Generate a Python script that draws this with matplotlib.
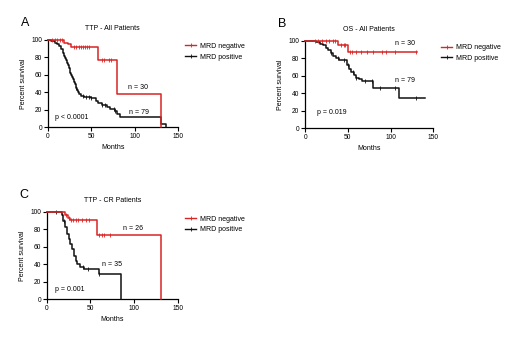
import numpy as np
import matplotlib
matplotlib.use("Agg")
import matplotlib.pyplot as plt
from matplotlib.lines import Line2D

plt.rcParams.update({
    "font.family": "Liberation Sans",
    "font.size": 5,
    "xtick.labelsize": 4.8,
    "ytick.labelsize": 4.8,
})

RED = "#d92424"
BLACK = "#111111"

# Panel A: TTP - All Patients
a_neg_t = [0, 19, 23, 27, 58, 80, 131]
a_neg_s = [100, 97, 95, 92, 77, 38, 0]
a_neg_cens = [5, 8, 11, 14, 16, 30, 33, 36, 38, 40, 43, 45, 48, 63, 65, 70, 73]
a_pos_t = [0, 4, 8, 11, 13, 15, 17, 18, 19, 20, 21, 22, 23, 24, 25, 26, 27, 28, 29,
           30, 31, 32, 33, 34, 35, 36, 38, 42, 50, 55, 58, 62, 68, 72, 78, 80, 83, 130, 136]
a_pos_s = [100, 99, 97, 95, 93, 90, 87, 85, 82, 79, 77, 74, 71, 68, 65, 62, 60, 57, 55,
           52, 49, 47, 45, 42, 40, 38, 36, 35, 33, 30, 28, 25, 23, 21, 18, 15, 11, 4, 0]
a_pos_cens = [33, 40, 44, 47, 50, 63, 66, 76, 78]

# Panel B: OS - All Patients
b_neg_t = [0, 38, 50]
b_neg_s = [100, 95, 87]
b_neg_end = 131
b_neg_cens = [12, 15, 20, 24, 28, 32, 35, 42, 45, 47, 52, 55, 60, 65, 72, 80, 90, 95, 105, 130]
b_pos_t = [0, 13, 17, 21, 24, 27, 30, 33, 36, 40, 49, 51, 54, 57, 60, 63, 66, 80, 110]
b_pos_s = [100, 99, 97, 95, 92, 89, 86, 83, 80, 78, 72, 68, 64, 61, 58, 56, 54, 46, 35]
b_pos_end = 140
b_pos_cens = [30, 38, 45, 50, 56, 60, 70, 78, 88, 105, 130]

# Panel C: TTP - CR Patients
c_neg_t = [0, 21, 24, 27, 57, 131]
c_neg_s = [100, 96, 93, 91, 73, 0]
c_neg_cens = [22, 25, 28, 30, 33, 36, 40, 45, 48, 60, 63, 66, 72]
c_pos_t = [0, 17, 19, 21, 23, 25, 27, 29, 31, 33, 35, 38, 43, 60, 85]
c_pos_s = [100, 96, 90, 83, 75, 69, 63, 57, 50, 44, 40, 37, 35, 29, 0]
c_pos_cens = [10, 20, 42, 47, 60]

panels = [
    dict(letter="A", title="TTP - All Patients",
         pos=[0.092, 0.624, 0.250, 0.258],
         neg=(a_neg_t, a_neg_s, None, a_neg_cens), posv=(a_pos_t, a_pos_s, None, a_pos_cens),
         notes=[(93, 45, "n = 30"), (93.5, 17, "n = 79"), (8, 11.5, "p < 0.0001")],
         leg=(0.356, 0.873)),
    dict(letter="B", title="OS - All Patients",
         pos=[0.587, 0.621, 0.246, 0.258],
         neg=(b_neg_t, b_neg_s, b_neg_end, b_neg_cens), posv=(b_pos_t, b_pos_s, b_pos_end, b_pos_cens),
         notes=[(105, 97, "n = 30"), (105, 55, "n = 79"), (14, 18, "p = 0.019")],
         leg=(0.848, 0.870)),
    dict(letter="C", title="TTP - CR Patients",
         pos=[0.090, 0.115, 0.252, 0.258],
         neg=(c_neg_t, c_neg_s, None, c_neg_cens), posv=(c_pos_t, c_pos_s, None, c_pos_cens),
         notes=[(87, 81, "n = 26"), (63, 40, "n = 35"), (9, 11, "p = 0.001")],
         leg=(0.356, 0.362)),
]


def draw_km(ax, t, s, end, cens, color):
    xs = list(t) + ([end] if end is not None else [])
    ys = list(s) + ([s[-1]] if end is not None else [])
    ax.step(xs, ys, where="post", color=color, lw=1.1, clip_on=False, zorder=3)
    idx = np.searchsorted(t, cens, side="right") - 1
    cy = np.array(s)[idx]
    ax.plot(cens, cy, ls="none", marker="|", ms=3.2, mew=0.6, color=color,
            clip_on=False, zorder=3)


fig = plt.figure(figsize=(5.2, 3.38), dpi=100)
for p in panels:
    ax = fig.add_axes(p["pos"])
    draw_km(ax, *p["posv"], BLACK)
    draw_km(ax, *p["neg"], RED)
    ax.set_xlim(0, 150)
    ax.set_ylim(0, 100)
    ax.set_xticks([0, 50, 100, 150])
    ax.set_yticks([0, 20, 40, 60, 80, 100])
    for side in ("top", "right"):
        ax.spines[side].set_visible(False)
    for side in ("left", "bottom"):
        ax.spines[side].set_linewidth(0.9)
    ax.tick_params(length=3, width=0.8, pad=1.2)
    ax.set_xlabel("Months", fontsize=5, labelpad=3)
    ax.set_ylabel("Percent survival", fontsize=5, labelpad=3)
    ax.set_title(p["title"], fontsize=5, pad=7)
    for x, y, txt in p["notes"]:
        ax.text(x, y, txt, fontsize=5, va="center", ha="left")
    bb = ax.get_position()
    fig.text(bb.x0 - 0.052, bb.y1 + 0.05, p["letter"], fontsize=9, va="center")
    handles = [Line2D([], [], color=RED, lw=1.0, marker="|", ms=3.2, mew=0.6),
               Line2D([], [], color=BLACK, lw=1.0, marker="|", ms=3.2, mew=0.6)]
    fig.legend(handles, ["MRD negative", "MRD positive"], loc="upper left",
               bbox_to_anchor=p["leg"], frameon=False, fontsize=5,
               handlelength=1.6, handletextpad=0.6, labelspacing=0.55,
               borderaxespad=0, borderpad=0)

fig.savefig("out.png", dpi=100)
